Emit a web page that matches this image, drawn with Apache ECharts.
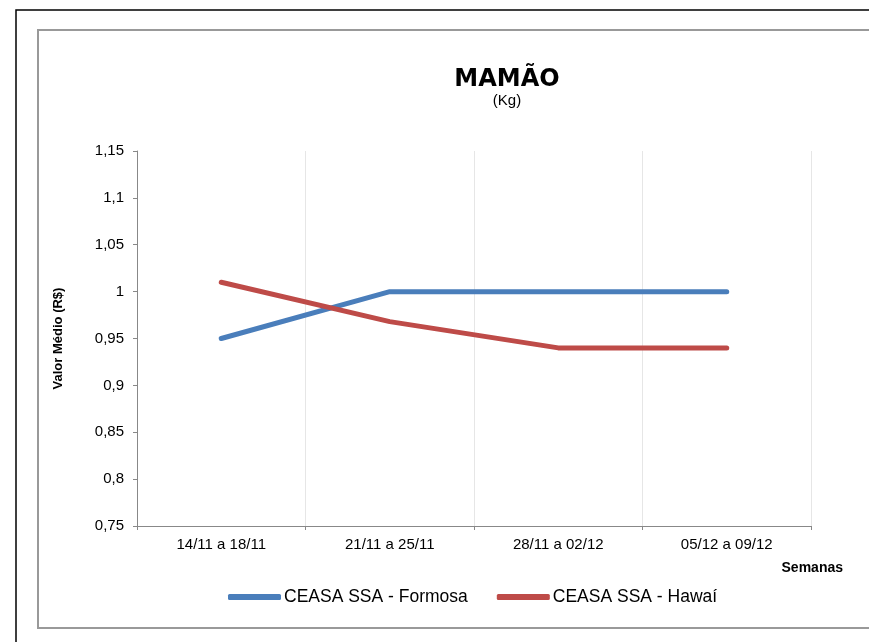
<!DOCTYPE html>
<html>
<head>
<meta charset="utf-8">
<script src="https://cdn.jsdelivr.net/npm/echarts@6/dist/echarts.min.js"></script>
<style>
html,body{margin:0;padding:0;background:#fff;}
#chart{width:869px;height:642px;}
</style>
</head>
<body>
<div id="chart"></div>
<script>
const categories = ['14/11 a 18/11', '21/11 a 25/11', '28/11 a 02/12', '05/12 a 09/12'];
const formosa = [0.95, 1.00, 1.00, 1.00];
const hawai = [1.01, 0.968, 0.94, 0.94];
const seriesNames = ['CEASA SSA - Formosa', 'CEASA SSA - Hawaí'];
const yTicks = {min: 0.75, max: 1.15, interval: 0.05};

const chart = echarts.init(document.getElementById('chart'), null, {renderer: 'canvas'});
const font = 'Liberation Sans, Arial, sans-serif';
chart.setOption({
  animation: false,
  backgroundColor: '#fff',
  graphic: [
    {type: 'rect', shape: {x: 16, y: 10, width: 900, height: 700}, style: {fill: 'none', stroke: '#000', lineWidth: 1.5}, silent: true, z: -10},
    {type: 'rect', shape: {x: 38, y: 30, width: 900, height: 598}, style: {fill: '#fff', stroke: '#999', lineWidth: 2}, silent: true, z: -9}
  ],
  title: {
    text: 'MAMÃO',
    subtext: '(Kg)',
    left: 502, top: 63, textAlign: 'center', itemGap: 1,
    textStyle: {fontFamily: 'DejaVu Sans, sans-serif', fontSize: 24, fontWeight: 'bold', color: '#000'},
    subtextStyle: {fontFamily: font, fontSize: 15, color: '#000'}
  },
  legend: {
    data: seriesNames,
    top: 588, left: 228, padding: 0,
    itemWidth: 53, itemHeight: 6, itemGap: 29,
    icon: 'roundRect',
    textStyle: {fontFamily: font, fontSize: 17.5, color: '#000', padding: [0, 0, 0, -2]}
  },
  grid: {left: 137, right: 58, top: 151, bottom: 116, containLabel: false},
  xAxis: {
    type: 'category',
    data: categories,
    boundaryGap: true,
    name: 'Semanas',
    nameLocation: 'end',
    nameGap: 0,
    nameTextStyle: {fontFamily: 'Liberation Sans Narrow, Liberation Sans, Arial', fontSize: 14, fontWeight: 'bold', color: '#000', align: 'right', verticalAlign: 'top', padding: [35, -32, 0, 0]},
    axisLine: {lineStyle: {color: '#888', width: 1}},
    axisTick: {show: true, length: 4, lineStyle: {color: '#888'}},
    axisLabel: {fontFamily: font, fontSize: 15, color: '#000', margin: 11},
    splitLine: {show: true, lineStyle: {color: '#e6e6e6', width: 1}}
  },
  yAxis: {
    type: 'value',
    min: yTicks.min, max: yTicks.max, interval: yTicks.interval,
    name: 'Valor Médio (R$)',
    nameLocation: 'middle',
    nameGap: 72,
    nameRotate: 90,
    nameTextStyle: {fontFamily: 'Liberation Sans Narrow, Liberation Sans, Arial', fontSize: 13, fontWeight: 'bold', color: '#000'},
    axisLine: {show: true, lineStyle: {color: '#888', width: 1}},
    axisTick: {show: true, length: 4, inside: false, lineStyle: {color: '#888'}},
    axisLabel: {fontFamily: font, fontSize: 15, color: '#000', margin: 13,
      formatter: v => String(Math.round(v * 100) / 100).replace('.', ',')},
    splitLine: {show: false}
  },
  series: [
    {name: seriesNames[0], type: 'line', data: formosa, symbol: 'none', smooth: false,
      lineStyle: {color: '#4a7ebb', width: 5, cap: 'round', join: 'round'}, itemStyle: {color: '#4a7ebb'}},
    {name: seriesNames[1], type: 'line', data: hawai, symbol: 'none', smooth: false,
      lineStyle: {color: '#be4b48', width: 5, cap: 'round', join: 'round'}, itemStyle: {color: '#be4b48'}}
  ]
});
</script>
</body>
</html>
